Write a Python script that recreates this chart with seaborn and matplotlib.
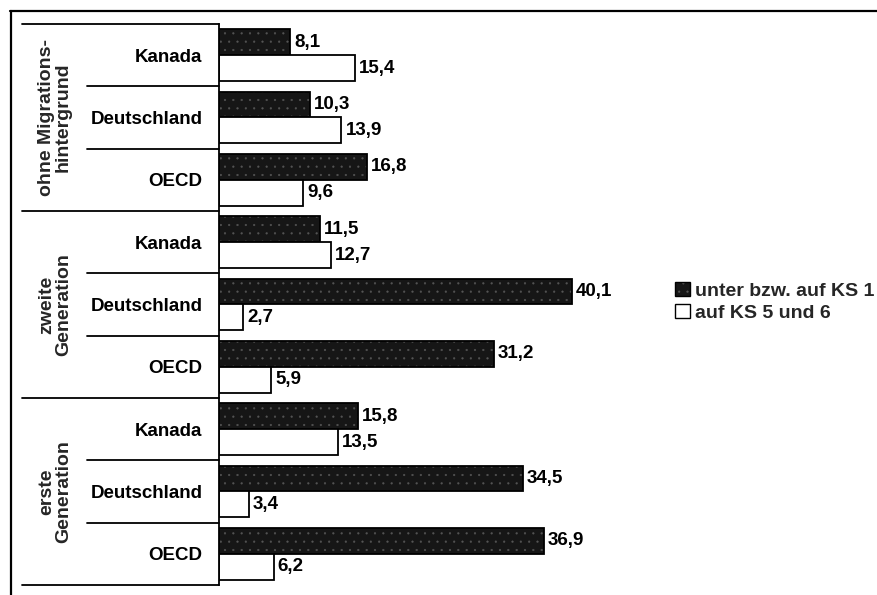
import matplotlib
matplotlib.use("Agg")
import matplotlib.pyplot as plt
import matplotlib.transforms as mtransforms
from matplotlib.lines import Line2D
from matplotlib.patches import Patch
import seaborn as sns
import pandas as pd

# ---- data ----
groups = ["ohne Migrations-\nhintergrund", "zweite\nGeneration", "erste\nGeneration"]
countries = ["Kanada", "Deutschland", "OECD"]
series = ["unter bzw. auf KS 1", "auf KS 5 und 6"]
low_values = [8.1, 10.3, 16.8, 11.5, 40.1, 31.2, 15.8, 34.5, 36.9]
high_values = [15.4, 13.9, 9.6, 12.7, 2.7, 5.9, 13.5, 3.4, 6.2]

keys = [f"{g}|{c}" for g in groups for c in countries]
tick_labels = [c for g in groups for c in countries]
df = pd.DataFrame({
    "key": keys * 2,
    "value": low_values + high_values,
    "series": [series[0]] * len(keys) + [series[1]] * len(keys),
})

sns.set_theme(style="white")
plt.rcParams["font.family"] = ["Liberation Sans", "DejaVu Sans"]
plt.rcParams["hatch.linewidth"] = 0.35

W, H = 877, 595
fig = plt.figure(figsize=(W / 100, H / 100), dpi=100)
ax_left, ax_right, ax_top, ax_bot = 219, 615, 24, 585
ax = fig.add_axes([ax_left / W, 1 - ax_bot / H, (ax_right - ax_left) / W, (ax_bot - ax_top) / H])

dark = "#161616"
hatch_col = (0.33, 0.33, 0.33, 1.0)
sns.barplot(data=df, y="key", x="value", hue="series", order=keys, hue_order=series,
            orient="h", width=0.83, palette=[dark, "white"], edgecolor="black",
            linewidth=1.3, legend=False, ax=ax, errorbar=None)

for p in ax.containers[0]:
    p.set_hatch("..")
    p._hatch_color = hatch_col

ax.set_xlim(0, 45)
ax.set_ylim(len(keys) - 0.5, -0.5)
ax.set_xlabel("")
ax.set_ylabel("")
ax.set_xticks([])
ax.set_yticks(range(len(keys)))
ax.set_yticklabels(tick_labels, fontsize=13.5, fontweight="bold", color="black")
ax.tick_params(axis="y", length=0, pad=12)
for s in ["top", "right", "bottom"]:
    ax.spines[s].set_visible(False)
ax.spines["left"].set_color("black")
ax.spines["left"].set_linewidth(1.3)

for cont in ax.containers:
    ax.bar_label(cont, labels=[f"{v:.1f}".replace(".", ",") for v in cont.datavalues],
                 padding=3, fontsize=13.5, fontweight="bold", color="black")

# table lines on the left
tr = mtransforms.blended_transform_factory(fig.transFigure, ax.transData)
n_c = len(countries)
for gi in range(len(groups) + 1):
    yb = gi * n_c - 0.5
    fig.add_artist(Line2D([22 / W, ax_left / W], [yb, yb], transform=tr, color="black", lw=1.3))
for gi in range(len(groups)):
    for ci in range(1, n_c):
        yb = gi * n_c + ci - 0.5
        fig.add_artist(Line2D([87 / W, ax_left / W], [yb, yb], transform=tr, color="black", lw=1.3))
    yc = gi * n_c + (n_c - 1) / 2
    fig.text(55 / W, yc, groups[gi], transform=tr, rotation=90, ha="center", va="center",
             fontsize=14, fontweight="bold", multialignment="center", linespacing=1.0)

# outer frame (top and left)
fig.add_artist(Line2D([10 / W, 1], [1 - 11 / H, 1 - 11 / H], transform=fig.transFigure, color="black", lw=1.6))
fig.add_artist(Line2D([11 / W, 11 / W], [0, 1 - 11 / H], transform=fig.transFigure, color="black", lw=1.6))

handles = [Patch(facecolor=dark, edgecolor="black", hatch="..", linewidth=1.0),
           Patch(facecolor="white", edgecolor="black", linewidth=1.0)]
handles[0]._hatch_color = hatch_col
fig.legend(handles, series, loc="center left", bbox_to_anchor=(675 / W, 1 - 302 / H),
           frameon=False, handlelength=0.75, handleheight=0.75,
           handletextpad=0.3, labelspacing=0.2, borderaxespad=0, borderpad=0,
           prop={"weight": "bold", "size": 14})

fig.savefig("out.png", dpi=100)
